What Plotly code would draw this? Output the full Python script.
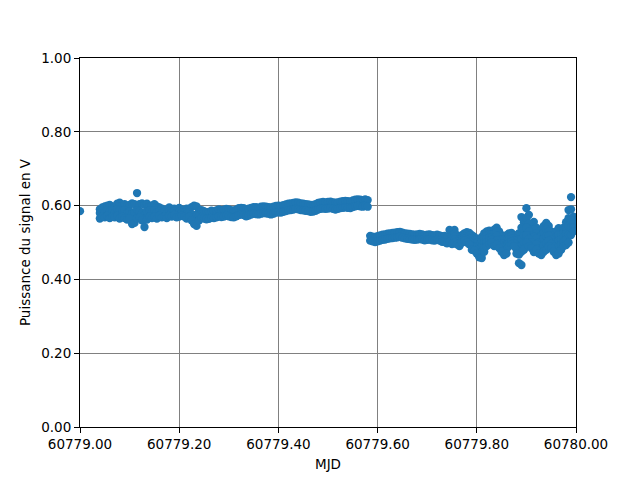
import plotly.graph_objects as go

MJD0 = 60779.0

# Isolated first sample
P0_t = [0.000]
P0_v = [0.585]

# Segment A: noisy part (offsets in days from MJD0)
A_t = [0.040,0.045,0.050,0.055,0.060,0.065,0.070,0.075,0.080,0.085,
       0.090,0.095,0.100,0.105,0.110,0.115,0.120,0.125,0.130,0.135,
       0.140,0.145,0.150,0.155,0.160,0.165,0.170,0.175,0.180,0.185,
       0.190,0.195,0.200,0.205,0.210,0.215,0.220,0.225,0.230,0.235,0.240]
A_hi = [0.590,0.595,0.598,0.600,0.602,0.598,0.596,0.605,0.608,0.600,
        0.604,0.598,0.602,0.606,0.604,0.634,0.604,0.606,0.602,0.605,
        0.598,0.600,0.604,0.598,0.595,0.592,0.588,0.590,0.595,0.590,
        0.592,0.588,0.594,0.590,0.588,0.592,0.590,0.596,0.600,0.598,0.585]
A_mid = [0.580,0.585,0.582,0.588,0.584,0.586,0.580,0.590,0.586,0.584,
         0.588,0.580,0.585,0.578,0.582,0.588,0.585,0.580,0.575,0.584,
         0.586,0.582,0.588,0.582,0.584,0.580,0.582,0.578,0.584,0.582,
         0.585,0.580,0.583,0.581,0.580,0.578,0.582,0.576,0.575,0.572,0.572]
A_lo = [0.565,0.570,0.568,0.572,0.566,0.570,0.568,0.572,0.565,0.570,
        0.566,0.562,0.565,0.550,0.553,0.565,0.568,0.560,0.542,0.562,
        0.570,0.566,0.570,0.565,0.572,0.568,0.570,0.566,0.572,0.570,
        0.575,0.568,0.570,0.572,0.570,0.565,0.570,0.560,0.550,0.545,0.560]

# Segment B: smooth rising part
B_t = [0.245,0.250,0.255,0.260,0.265,0.270,0.275,0.280,0.285,0.290,
       0.295,0.300,0.305,0.310,0.315,0.320,0.325,0.330,0.335,0.340,
       0.345,0.350,0.355,0.360,0.365,0.370,0.375,0.380,0.385,0.390,
       0.395,0.400,0.405,0.410,0.415,0.420,0.425,0.430,0.435,0.440,
       0.445,0.450,0.455,0.460,0.465,0.470,0.475,0.480,0.485,0.490,
       0.495,0.500,0.505,0.510,0.515,0.520,0.525,0.530,0.535,0.540,
       0.545,0.550,0.555,0.560,0.565,0.570,0.575,0.580]
B_up = [0.588,0.585,0.582,0.583,0.586,0.584,0.587,0.590,0.588,0.589,
        0.591,0.590,0.587,0.587,0.589,0.593,0.594,0.593,0.590,0.592,
        0.594,0.596,0.596,0.594,0.597,0.598,0.597,0.596,0.595,0.597,
        0.599,0.600,0.599,0.601,0.603,0.605,0.606,0.607,0.609,0.608,
        0.606,0.605,0.604,0.603,0.602,0.602,0.604,0.607,0.609,0.610,
        0.609,0.610,0.611,0.609,0.608,0.609,0.611,0.612,0.613,0.612,
        0.611,0.614,0.616,0.617,0.616,0.615,0.617,0.615]
B_dn = [0.568,0.565,0.563,0.564,0.567,0.566,0.568,0.571,0.569,0.570,
        0.573,0.571,0.569,0.568,0.571,0.574,0.576,0.574,0.571,0.573,
        0.576,0.578,0.577,0.576,0.578,0.580,0.579,0.578,0.576,0.578,
        0.581,0.582,0.581,0.583,0.585,0.587,0.588,0.589,0.591,0.590,
        0.588,0.587,0.586,0.585,0.583,0.584,0.586,0.589,0.591,0.592,
        0.591,0.592,0.593,0.591,0.589,0.591,0.593,0.594,0.595,0.594,
        0.593,0.596,0.598,0.599,0.598,0.597,0.599,0.597]

# Segment C: after the jump, calm
C_t = [0.585,0.590,0.595,0.600,0.605,0.610,0.615,0.620,0.625,0.630,
       0.635,0.640,0.645,0.650,0.655,0.660,0.665,0.670,0.675,0.680,
       0.685,0.690,0.695,0.700,0.705,0.710,0.715,0.720,0.725,0.730,
       0.735,0.740,0.745,0.750]
C_up = [0.518,0.516,0.515,0.517,0.519,0.521,0.522,0.524,0.525,0.526,
        0.527,0.528,0.529,0.527,0.525,0.524,0.523,0.522,0.521,0.522,
        0.523,0.522,0.520,0.521,0.522,0.520,0.519,0.521,0.519,0.517,
        0.518,0.515,0.534,0.517]
C_dn = [0.505,0.503,0.501,0.503,0.505,0.507,0.508,0.510,0.511,0.512,
        0.513,0.514,0.515,0.513,0.511,0.510,0.509,0.508,0.507,0.508,
        0.509,0.508,0.506,0.507,0.508,0.506,0.505,0.507,0.505,0.502,
        0.501,0.498,0.503,0.496]

# Segment D: noisy end
D_t = [0.755,0.760,0.765,0.770,0.775,0.780,0.785,0.790,0.795,0.800,
       0.805,0.810,0.815,0.820,0.825,0.830,0.835,0.840,0.845,0.850,
       0.855,0.860,0.865,0.870,0.875,0.880,0.885,0.890,0.895,0.900,
       0.905,0.910,0.915,0.920,0.925,0.930,0.935,0.940,0.945,0.950,
       0.955,0.960,0.965,0.970,0.975,0.980,0.985,0.990,0.995]
D_hi = [0.534,0.520,0.515,0.520,0.525,0.528,0.526,0.520,0.515,0.510,
        0.505,0.515,0.525,0.530,0.532,0.528,0.535,0.540,0.530,0.520,
        0.515,0.520,0.525,0.526,0.520,0.515,0.525,0.569,0.555,0.593,
        0.575,0.550,0.556,0.540,0.530,0.535,0.545,0.553,0.545,0.530,
        0.525,0.530,0.539,0.535,0.540,0.555,0.588,0.623,0.570]
D_mid2 = [0.524,0.514,0.509,0.515,0.520,0.521,0.518,0.510,0.506,0.500,
          0.495,0.502,0.512,0.520,0.522,0.521,0.524,0.529,0.519,0.509,
          0.502,0.508,0.516,0.518,0.512,0.504,0.508,0.540,0.536,0.566,
          0.552,0.534,0.535,0.525,0.515,0.518,0.528,0.535,0.531,0.519,
          0.512,0.514,0.522,0.521,0.528,0.540,0.566,0.590,0.560]
D_mid = [0.515,0.508,0.503,0.510,0.515,0.514,0.510,0.500,0.496,0.490,
         0.485,0.488,0.500,0.510,0.513,0.514,0.512,0.518,0.508,0.498,
         0.490,0.495,0.508,0.510,0.505,0.492,0.490,0.510,0.518,0.540,
         0.530,0.518,0.515,0.510,0.500,0.500,0.510,0.518,0.518,0.508,
         0.500,0.498,0.505,0.508,0.515,0.524,0.545,0.560,0.550]
D_mid3 = [0.508,0.502,0.497,0.505,0.510,0.507,0.503,0.490,0.487,0.480,
          0.472,0.473,0.488,0.500,0.504,0.507,0.501,0.506,0.496,0.486,
          0.478,0.482,0.499,0.502,0.498,0.481,0.467,0.475,0.499,0.520,
          0.510,0.501,0.494,0.495,0.485,0.483,0.492,0.499,0.504,0.496,
          0.488,0.482,0.488,0.494,0.502,0.508,0.522,0.540,0.540]
D_lo = [0.500,0.495,0.490,0.500,0.505,0.500,0.495,0.480,0.478,0.470,
        0.460,0.458,0.475,0.490,0.495,0.500,0.490,0.495,0.485,0.475,
        0.466,0.470,0.490,0.495,0.490,0.470,0.444,0.439,0.480,0.500,
        0.490,0.485,0.474,0.480,0.470,0.466,0.475,0.480,0.490,0.485,
        0.475,0.466,0.470,0.480,0.490,0.493,0.500,0.520,0.530]

x_ticks = [60779.0, 60779.2, 60779.4, 60779.6, 60779.8, 60780.0]
y_ticks = [0.0, 0.2, 0.4, 0.6, 0.8, 1.0]

pairs = [(P0_t, P0_v),
         (A_t, A_hi), (A_t, A_mid), (A_t, A_lo),
         (B_t, B_up), (B_t, B_dn),
         (C_t, C_up), (C_t, C_dn),
         (D_t, D_hi), (D_t, D_mid2), (D_t, D_mid), (D_t, D_mid3), (D_t, D_lo)]
xs, ys = [], []
for t, v in pairs:
    xs += [MJD0 + o for o in t]
    ys += list(v)

fig = go.Figure(go.Scatter(
    x=xs, y=ys, mode="markers",
    marker=dict(color="#1f77b4", size=8.3, line=dict(width=0)),
    showlegend=False,
))

FONT = dict(family="DejaVu Sans", size=13.5, color="black")

axis_common = dict(
    showgrid=True, gridcolor="#808080", gridwidth=1,
    showline=True, linecolor="black", linewidth=1, mirror=True,
    ticks="outside", ticklen=5, tickcolor="black", tickwidth=1,
    zeroline=False, tickformat=".2f",
    tickfont=FONT,
)

fig.update_layout(
    width=640, height=480,
    margin=dict(l=72, r=72, t=50, b=61),
    plot_bgcolor="white", paper_bgcolor="white",
    font=FONT,
    xaxis=dict(range=[60779.0, 60780.0], tickvals=x_ticks,
               title=dict(text="MJD", standoff=8, font=FONT), **axis_common),
    yaxis=dict(range=[0.0, 1.0], tickvals=y_ticks,
               title=dict(text="Puissance du signal en V", standoff=7, font=FONT),
               **axis_common),
)

fig.write_html("out.html")
